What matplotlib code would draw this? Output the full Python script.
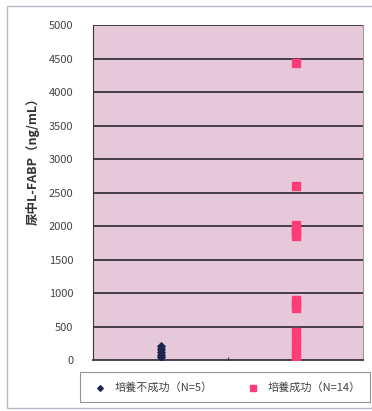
import matplotlib.pyplot as plt
from matplotlib.patches import Rectangle

plt.rcParams['font.family'] = ['Noto Sans CJK JP', 'DejaVu Sans']

# urinary L-FABP per group (ng/mL)
fail_vals = [210, 160, 120, 80, 40]
success_vals = [4430, 2600, 2020, 1960, 1900, 1850, 900, 840, 780, 420, 330, 240, 130, 50]
yticks = [0, 500, 1000, 1500, 2000, 2500, 3000, 3500, 4000, 4500, 5000]
fail_label = '培養不成功（N=5）'
success_label = '培養成功（N=14）'

fig = plt.figure(figsize=(3.72, 4.11), dpi=100)
ax = fig.add_axes([0.25, 0.124, 0.726, 0.815])
ax.set_facecolor('#e6c9d9')

for y in yticks[1:]:
    ax.axhline(y, color='#3b3340', lw=1.3, zorder=1)

ax.scatter([1] * len(fail_vals), fail_vals, marker='D', s=14, color='#1c2550',
           zorder=3, label=fail_label)
ax.scatter([2] * len(success_vals), success_vals, marker='s', s=26, color='#ff3b7a',
           zorder=3, label=success_label)

ax.set_xlim(0.5, 2.5)
ax.set_ylim(0, 5000)
ax.set_yticks(yticks)
ax.set_yticklabels([str(v) for v in yticks], fontsize=8, color='#444444')
ax.tick_params(axis='y', length=0, pad=14)
ax.set_xticks([1.5])
ax.set_xticklabels([''])
ax.tick_params(axis='x', direction='in', length=2, color='#333333')

ax.spines['left'].set_color('#3b3340')
ax.spines['bottom'].set_color('#3b3340')
ax.spines['bottom'].set_linewidth(1.3)
ax.spines['right'].set_color('#999999')
ax.spines['top'].set_visible(False)

fig.text(0.088, 0.615, '尿中L-FABP（ng/mL）', rotation=90, fontsize=9,
         fontweight='bold', color='#333333', ha='center', va='center')

leg = fig.legend(loc='center', bbox_to_anchor=(0.605, 0.058), ncol=2, fontsize=8,
                 frameon=True, fancybox=False, edgecolor='#777777',
                 handletextpad=0.3, columnspacing=2.6, markerscale=0.75,
                 borderpad=0.85, borderaxespad=0)
leg.get_frame().set_linewidth(0.8)
for t in leg.get_texts():
    t.set_color('#444444')

# outer chart frame
fig.patches.append(Rectangle((0.019, 0.007), 1.2, 0.979, transform=fig.transFigure,
                             fill=False, edgecolor='#b8b8c8', lw=1.0))

fig.savefig('out.png', dpi=100)
